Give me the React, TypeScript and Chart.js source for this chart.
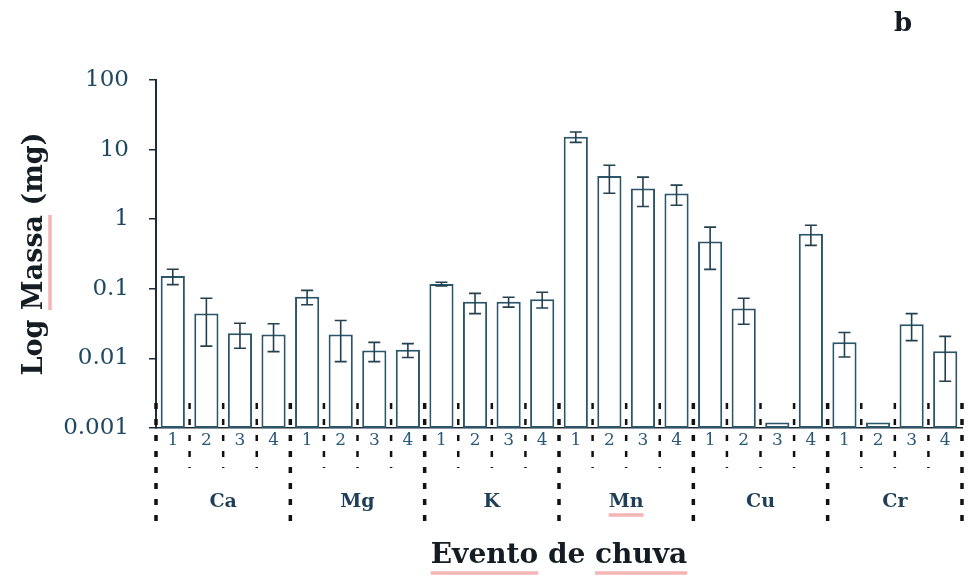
import { useEffect, useRef } from 'react';
import { Chart, registerables } from 'chart.js';

Chart.register(...registerables);

// Elementos analisados e eventos de chuva
const elementos = ['Ca', 'Mg', 'K', 'Mn', 'Cu', 'Cr'];
const eventos = ['1', '2', '3', '4'];

// Massa média (mg) por elemento e evento
const massaCa = [0.153, 0.044, 0.023, 0.022];
const massaMg = [0.077, 0.022, 0.013, 0.0133];
const massaK = [0.117, 0.065, 0.065, 0.071];
const massaMn = [15.3, 4.16, 2.77, 2.34];
const massaCu = [0.48, 0.052, 0.0012, 0.62];
const massaCr = [0.017, 0.0012, 0.031, 0.0127];

// Desvio padrão (mg)
const erroCa = [0.038, 0.029, 0.009, 0.0095];
const erroMg = [0.018, 0.013, 0.004, 0.003];
const erroK = [0.007, 0.021, 0.0105, 0.018];
const erroMn = [2.6, 1.8, 1.25, 0.75];
const erroCu = [0.29, 0.021, 0, 0.2];
const erroCr = [0.0065, 0, 0.013, 0.008];

const yTickValues = [0.001, 0.01, 0.1, 1, 10, 100];
const yTickLabels = ['0.001', '0.01', '0.1', '1', '10', '100'];

const massa = [...massaCa, ...massaMg, ...massaK, ...massaMn, ...massaCu, ...massaCr];
const erro = [...erroCa, ...erroMg, ...erroK, ...erroMn, ...erroCu, ...erroCr];
const categorias = elementos.flatMap(() => eventos);

const SERIF = "'DejaVu Serif', 'Liberation Serif', serif";
const TEXT_DARK = '#141c24';
const TICK_COLOR = '#1f4862';
const AXIS_COLOR = '#1c2c38';

const errorBars = {
  id: 'errorBars',
  afterDatasetsDraw(chart: any) {
    const { ctx } = chart;
    const y = chart.scales.y;
    const meta = chart.getDatasetMeta(0);
    ctx.save();
    ctx.strokeStyle = '#23414f';
    ctx.lineWidth = 1.6;
    meta.data.forEach((bar: any, i: number) => {
      const e = erro[i];
      if (!e) return;
      const v = massa[i];
      const yTop = y.getPixelForValue(v + e);
      const yBot = y.getPixelForValue(Math.max(v - e, y.min));
      const x = bar.x;
      const cap = 6;
      ctx.beginPath();
      ctx.moveTo(x, yTop);
      ctx.lineTo(x, yBot);
      ctx.moveTo(x - cap, yTop);
      ctx.lineTo(x + cap, yTop);
      ctx.moveTo(x - cap, yBot);
      ctx.lineTo(x + cap, yBot);
      ctx.stroke();
    });
    ctx.restore();
  },
};

// Linhas pontilhadas que separam eventos e grupos no eixo de categorias,
// sublinhados do corretor e a letra do painel
const decoracoes = {
  id: 'decoracoes',
  afterDraw(chart: any) {
    const { ctx, chartArea } = chart;
    const x = chart.scales.x;
    const x2 = chart.scales.x2;
    const n = categorias.length;
    ctx.save();
    ctx.strokeStyle = '#111111';
    ctx.setLineDash([6, 10]);
    for (let i = 0; i <= n; i++) {
      const px = x.getPixelForValue(i - 0.5);
      const grupo = i % eventos.length === 0;
      ctx.lineWidth = grupo ? 3.5 : 2.5;
      ctx.beginPath();
      ctx.moveTo(px, chartArea.bottom - 25);
      ctx.lineTo(px, chartArea.bottom + (grupo ? 95 : 40));
      ctx.stroke();
    }
    ctx.setLineDash([]);

    // sublinhados rosados
    ctx.strokeStyle = 'rgba(236, 120, 120, 0.55)';
    ctx.lineWidth = 3.5;
    ctx.font = `bold 28px ${SERIF}`;
    const titulo = 'Evento de chuva';
    const cx = (x2.left + x2.right) / 2;
    const wT = ctx.measureText(titulo).width;
    const x0 = cx - wT / 2;
    const wEvento = ctx.measureText('Evento').width;
    const wAntesChuva = ctx.measureText('Evento de ').width;
    const wChuva = ctx.measureText('chuva').width;
    const yU = 573;
    ctx.beginPath();
    ctx.moveTo(x0, yU);
    ctx.lineTo(x0 + wEvento, yU);
    ctx.moveTo(x0 + wAntesChuva, yU);
    ctx.lineTo(x0 + wAntesChuva + wChuva, yU);
    ctx.stroke();

    ctx.font = `bold 27px ${SERIF}`;
    const yTitulo = 'Log Massa (mg)';
    const cy = (chartArea.top + chartArea.bottom) / 2;
    const wY = ctx.measureText(yTitulo).width;
    const yStart = cy + wY / 2 - ctx.measureText('Log ').width;
    const wMassa = ctx.measureText('Massa').width;
    ctx.beginPath();
    ctx.moveTo(50, yStart);
    ctx.lineTo(50, yStart - wMassa);
    ctx.stroke();

    ctx.font = `bold 19px ${SERIF}`;
    const mnX = x2.getPixelForValue(3);
    const wMn = ctx.measureText('Mn').width;
    ctx.beginPath();
    ctx.moveTo(mnX - wMn / 2, 515);
    ctx.lineTo(mnX + wMn / 2, 515);
    ctx.stroke();

    // letra do painel
    ctx.fillStyle = TEXT_DARK;
    ctx.font = `bold 26px ${SERIF}`;
    ctx.textAlign = 'center';
    ctx.textBaseline = 'middle';
    ctx.fillText('b', 903, 24);
    ctx.restore();
  },
};

export default function App() {
  const canvasRef = useRef<HTMLCanvasElement | null>(null);

  useEffect(() => {
    if (!canvasRef.current) return;
    Chart.defaults.font.family = SERIF;
    const chart = new Chart(canvasRef.current, {
      type: 'bar',
      data: {
        labels: categorias,
        datasets: [
          {
            data: massa,
            backgroundColor: '#ffffff',
            borderColor: '#2b5568',
            borderWidth: 2,
            borderSkipped: false,
            barPercentage: 0.72,
            categoryPercentage: 1,
          },
        ],
      },
      options: {
        responsive: false,
        animation: false,
        layout: { padding: { top: 80, right: 8, left: 0, bottom: 0 } },
        plugins: {
          legend: { display: false },
          tooltip: { enabled: false },
        },
        scales: {
          y: {
            type: 'logarithmic',
            min: 0.001,
            max: 100,
            afterBuildTicks: (scale: any) => {
              scale.ticks = yTickValues.map((value) => ({ value }));
            },
            afterFit: (scale: any) => {
              scale.width = 156;
            },
            ticks: {
              callback: (_v: any, index: number) => yTickLabels[index],
              color: TICK_COLOR,
              font: { size: 23, family: SERIF },
              padding: 20,
            },
            grid: {
              drawOnChartArea: false,
              drawTicks: true,
              tickLength: 7,
              color: AXIS_COLOR,
              lineWidth: 1.5,
            },
            border: { display: true, color: AXIS_COLOR, width: 2 },
            title: {
              display: true,
              text: 'Log Massa (mg)',
              color: TEXT_DARK,
              font: { size: 27, weight: 'bold', family: SERIF, lineHeight: 1.2 },
              padding: { top: 19, bottom: 0 },
            },
          },
          x: {
            type: 'category',
            offset: true,
            afterFit: (scale: any) => {
              scale.height = 36;
            },
            ticks: {
              color: '#2a5878',
              font: { size: 17, family: SERIF },
              padding: 2,
              maxRotation: 0,
              autoSkip: false,
            },
            grid: { display: false, drawTicks: false },
            border: { display: true, color: AXIS_COLOR, width: 1.5 },
          },
          x2: {
            type: 'category',
            position: 'bottom',
            weight: 1,
            labels: elementos,
            offset: true,
            afterFit: (scale: any) => {
              scale.height = 112;
            },
            ticks: {
              color: '#1f3f58',
              font: { size: 19, weight: 'bold', family: SERIF },
              padding: 27,
              maxRotation: 0,
              autoSkip: false,
            },
            grid: { display: false, drawTicks: false },
            border: { display: false },
            title: {
              display: true,
              text: 'Evento de chuva',
              color: TEXT_DARK,
              font: { size: 28, weight: 'bold', family: SERIF, lineHeight: 1.2 },
              padding: { top: 0, bottom: 3 },
            },
          },
        },
      } as any,
      plugins: [errorBars, decoracoes],
    });
    return () => chart.destroy();
  }, []);

  return (
    <div
      style={{
        position: 'fixed',
        left: 0,
        top: 0,
        width: 970,
        height: 576,
        background: '#ffffff',
      }}
    >
      <canvas ref={canvasRef} width={970} height={576} style={{ display: 'block' }} />
    </div>
  );
}
